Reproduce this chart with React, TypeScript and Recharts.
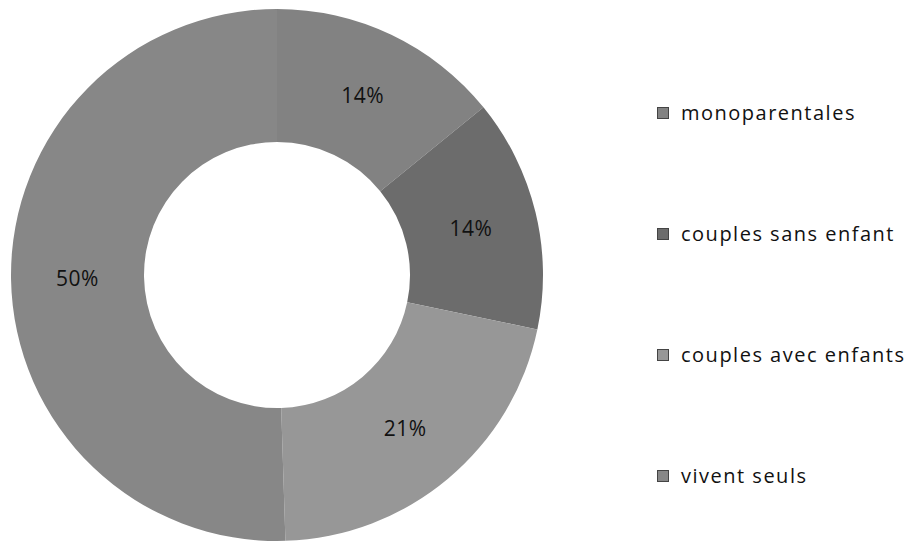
import React from 'react';
import { PieChart, Pie, Cell, Legend } from 'recharts';

const categories = ['monoparentales', 'couples sans enfant', 'couples avec enfants', 'vivent seuls'];
const shares = [14, 14, 21, 50];
const colors = ['#828282', '#6c6c6c', '#979797', '#878787'];

const data = categories.map((name, i) => ({ name, value: shares[i] }));

const RADIAN = Math.PI / 180;
const FONT = '"Open Sans", "Liberation Sans", sans-serif';

const renderLabel = (props: any) => {
  const { cx, cy, midAngle, innerRadius, outerRadius, value } = props;
  const r = (innerRadius + outerRadius) / 2;
  const x = cx + r * Math.cos(-midAngle * RADIAN);
  const y = cy + r * Math.sin(-midAngle * RADIAN);
  return (
    <text x={x} y={y} fill="#111" textAnchor="middle" dominantBaseline="central"
      style={{ fontFamily: FONT, fontSize: 21, letterSpacing: 0.5 }}>
      {`${value}%`}
    </text>
  );
};

const renderLegend = () => {
  return (
    <div style={{ fontFamily: FONT, fontSize: 20, color: '#111' }}>
      {data.map((entry, i) => (
        <div key={entry.name} style={{ display: 'flex', alignItems: 'center', height: 121 }}>
          <span style={{ display: 'inline-block', width: 10, height: 10, background: colors[i], border: '1px solid #444', marginRight: 12 }} />
          <span style={{ letterSpacing: 1.5 }}>{entry.name}</span>
        </div>
      ))}
    </div>
  );
};

export default function App() {
  return (
    <div style={{ position: 'absolute', left: 0, top: 0, width: 912, height: 546, background: '#fff' }}>
      <PieChart width={912} height={546} margin={{ top: 0, right: 0, bottom: 0, left: 0 }}>
        <Pie
          data={data}
          dataKey="value"
          nameKey="name"
          cx={277}
          cy={275}
          innerRadius={133}
          outerRadius={266}
          startAngle={90}
          endAngle={-270}
          stroke="none"
          label={renderLabel}
          labelLine={false}
          isAnimationActive={false}
        >
          {data.map((d, i) => (
            <Cell key={d.name} fill={colors[i]} />
          ))}
        </Pie>
        <Legend
          layout="vertical"
          align="right"
          verticalAlign="top"
          content={renderLegend}
          wrapperStyle={{ left: 657, top: 52, width: 255 }}
        />
      </PieChart>
    </div>
  );
}
